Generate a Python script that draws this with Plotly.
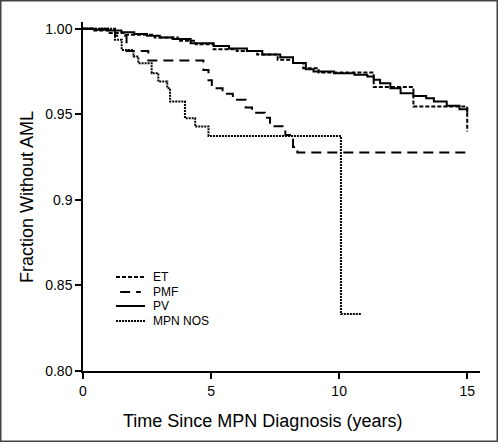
import plotly.graph_objects as go

# ---- data ----
et_t = [0, 0.4, 1.0, 1.6, 2.8, 3.7, 4.4, 5.1, 6.0, 6.8, 7.6, 8.2, 8.6, 9.2, 11.35, 12.9, 15.0]
et_v = [1.0, 0.999, 0.9975, 0.9965, 0.995, 0.993, 0.991, 0.988, 0.987, 0.985, 0.982, 0.980, 0.977, 0.9745, 0.966, 0.9546, 0.940]

pmf_t = [0, 1.25, 1.7, 2.55, 4.7, 4.9, 5.03, 5.45, 5.85, 6.35, 6.6, 7.1, 7.3, 7.9, 8.2, 8.37, 15.0]
pmf_v = [1.0, 0.996, 0.987, 0.9815, 0.976, 0.970, 0.9653, 0.962, 0.9585, 0.954, 0.951, 0.948, 0.943, 0.938, 0.931, 0.9277, 0.9277]

pv_t = [0, 0.5, 1.0, 1.5, 2.0, 2.5, 3.0, 3.5, 4.2, 5.1, 5.7, 6.4, 7.0, 7.7, 8.2, 8.7, 9.0, 9.8,
        10.6, 11.1, 11.35, 11.6, 12.0, 12.4, 12.9, 13.4, 13.7, 14.2, 14.7, 15.0]
pv_v = [1.0, 0.9995, 0.999, 0.998, 0.997, 0.996, 0.995, 0.994, 0.9916, 0.990, 0.9885, 0.987, 0.985,
        0.9834, 0.980, 0.9764, 0.975, 0.974, 0.9731, 0.9721, 0.9702, 0.9682, 0.9653, 0.9624, 0.9608,
        0.9595, 0.9575, 0.955, 0.953, 0.951]

nos_t = [0, 1.25, 1.51, 1.97, 2.16, 2.68, 2.94, 3.29, 3.40, 3.98, 4.38, 4.90, 10.07, 10.86]
nos_v = [1.0, 0.9936, 0.9877, 0.9838, 0.9799, 0.9741, 0.9692, 0.9653, 0.9575, 0.9478, 0.9429, 0.9374, 0.8333, 0.8333]

series_names = ["ET", "PMF", "PV", "MPN NOS"]
x_ticks = [0, 5, 10, 15]
y_ticks = [0.80, 0.85, 0.90, 0.95, 1.00]
y_tick_text = ["0.80", "0.85", "0.9", "0.95", "1.00"]

dashes = ["4px,2px", "10px,6px", "solid", "2px,1px"]
series = [(et_t, et_v), (pmf_t, pmf_v), (pv_t, pv_v), (nos_t, nos_v)]

W, H = 498, 442
ml, mr, mt, mb = 83, 18, 22, 71
pw, ph = W - ml - mr, H - mt - mb
title_font = "Liberation Sans Narrow, Arial Narrow, Liberation Sans, Arial"

fig = go.Figure()
for (t, v), name, d in zip(series, series_names, dashes):
    fig.add_trace(go.Scatter(x=t, y=v, mode="lines", name=name, line_shape="hv",
                             line=dict(color="black", width=2, dash=d), showlegend=False))

# manual legend (data coordinates)
leg_y = [0.855, 0.8462, 0.838, 0.8292]
shapes = []
annotations = []
for name, d, yy in zip(series_names, dashes, leg_y):
    x0 = 1.45 if name == "PMF" else 1.29
    x1 = 2.26 if name == "PMF" else 2.42
    shapes.append(dict(type="line", xref="x", yref="y", x0=x0, x1=x1, y0=yy, y1=yy,
                       line=dict(color="black", width=2, dash=d)))
    annotations.append(dict(x=2.66, y=yy, xref="x", yref="y", text=name, showarrow=False,
                            xanchor="left", yanchor="middle",
                            font=dict(family="Liberation Sans, Arial", size=12, color="black")))

# outer frame
shapes.append(dict(type="rect", xref="paper", yref="paper",
                   x0=-(ml - 0.75) / pw, x1=1 + (mr - 0.75) / pw,
                   y0=-(mb - 0.75) / ph, y1=1 + (mt - 0.75) / ph,
                   line=dict(color="#444444", width=1.5)))

# axis titles placed as annotations
annotations.append(dict(x=(262 - ml) / pw, y=-(421 - (mt + ph)) / ph, xref="paper", yref="paper",
                        text="Time Since MPN Diagnosis (years)", showarrow=False,
                        xanchor="center", yanchor="middle",
                        font=dict(family=title_font, size=18, color="black")))
annotations.append(dict(x=-(ml - 27) / pw, y=(mt + ph - 197) / ph, xref="paper", yref="paper",
                        text="Fraction Without AML", showarrow=False, textangle=-90,
                        xanchor="center", yanchor="middle",
                        font=dict(family=title_font, size=18, color="black")))

fig.update_layout(
    width=W, height=H,
    margin=dict(l=ml, r=mr, t=mt, b=mb, autoexpand=False),
    paper_bgcolor="white", plot_bgcolor="white",
    shapes=shapes, annotations=annotations,
    font=dict(family="Liberation Sans, Arial", color="black"),
)
fig.update_xaxes(range=[0, 15.5], tickvals=x_ticks, ticks="outside", ticklen=6, tickwidth=1.5,
                 showline=True, linecolor="black", linewidth=1.5, showgrid=False, zeroline=False,
                 tickfont=dict(size=14), tickcolor="black", automargin=False)
fig.update_yaxes(range=[0.80, 1.004], tickvals=y_ticks, ticktext=y_tick_text, ticks="outside",
                 ticklen=6, tickwidth=1.5, showline=True, linecolor="black", linewidth=1.5,
                 showgrid=False, zeroline=False, tickfont=dict(size=14), tickcolor="black",
                 automargin=False)

fig.write_html("out.html", config={"displayModeBar": False},
               post_script="document.body.style.margin='0';")
